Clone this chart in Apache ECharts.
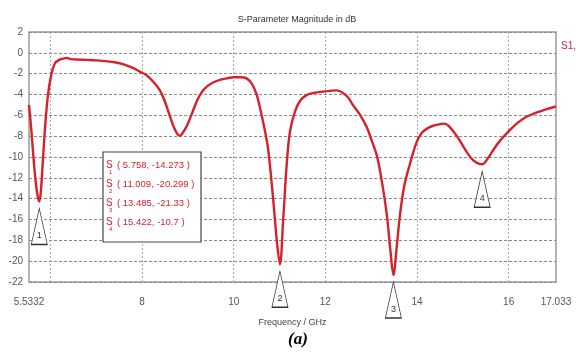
<!DOCTYPE html>
<html>
<head>
<meta charset="utf-8">
<script src="https://cdn.jsdelivr.net/npm/echarts@6/dist/echarts.min.js"></script>
<style>
  html, body { margin: 0; padding: 0; background: #fff; }
  #chart { width: 576px; height: 352px; }
</style>
</head>
<body>
<div id="chart"></div>
<script>
// S11 magnitude sweep (GHz, dB)
const freqGHz = [
  5.5332, 5.58, 5.63, 5.68, 5.72, 5.758, 5.79, 5.83, 5.87, 5.92,
  5.97, 6.03, 6.10, 6.20, 6.30, 6.36, 6.45, 6.6, 6.8, 7.0,
  7.2, 7.4, 7.6, 7.8, 7.95, 8.1, 8.25, 8.39, 8.5, 8.61,
  8.70, 8.78, 8.83, 8.90, 9.0, 9.1, 9.2, 9.3, 9.4, 9.55,
  9.7, 9.85, 10.0, 10.15, 10.28, 10.4, 10.5, 10.57, 10.65, 10.75,
  10.86, 10.94, 11.009, 11.08, 11.16, 11.23, 11.34, 11.45, 11.59, 11.75,
  11.95, 12.1, 12.25, 12.4, 12.5, 12.6, 12.75, 12.9, 13.01, 13.12,
  13.22, 13.34, 13.42, 13.485, 13.56, 13.63, 13.72, 13.85, 13.99, 14.1,
  14.21, 14.35, 14.5, 14.6, 14.72, 14.87, 15.0, 15.16, 15.3, 15.422,
  15.55, 15.66, 15.8, 16.03, 16.2, 16.39, 16.6, 16.8, 17.033
];
const s11dB = [
  -5.0, -7.2, -10.0, -12.4, -13.7, -14.273, -13.4, -10.8, -8.0, -5.2,
  -3.3, -1.9, -1.0, -0.65, -0.53, -0.5, -0.6, -0.65, -0.68, -0.72,
  -0.8, -0.9, -1.1, -1.45, -1.8, -2.15, -2.8, -3.6, -4.7, -6.1,
  -7.2, -7.85, -7.95, -7.6, -6.8, -5.7, -4.6, -3.8, -3.3, -2.85,
  -2.6, -2.45, -2.35, -2.35, -2.45, -3.0, -4.0, -5.2, -6.8, -9.2,
  -14.0, -18.0, -20.299, -16.0, -10.5, -7.5, -5.6, -4.6, -4.06, -3.85,
  -3.72, -3.65, -3.6, -3.9, -4.3, -5.0, -5.9, -7.1, -8.4, -9.8,
  -12.0, -15.5, -19.0, -21.33, -18.5, -15.5, -12.8, -10.6, -8.6, -7.7,
  -7.3, -7.0, -6.85, -6.8, -7.15, -8.0, -8.9, -10.0, -10.55, -10.7,
  -10.1, -9.35, -8.5, -7.4, -6.7, -6.14, -5.75, -5.45, -5.15
];

// Markers placed on the resonances
const markerIds = ['1', '2', '3', '4'];
const markerFreq = [5.758, 11.009, 13.485, 15.422];
const markerdB = [-14.273, -20.299, -21.33, -10.7];

// Axis labels
const xTickLabels = [5.5332, 8, 10, 12, 14, 16, 17.033];
const xGridLines = [6, 8, 10, 12, 14, 16];

const chart = echarts.init(document.getElementById('chart'), null, { renderer: 'canvas' });

const curve = freqGHz.map((f, i) => [f, s11dB[i]]);
const font = 'Liberation Sans, Arial, sans-serif';
const red = '#d8202c';

// Marker readout box
const boxLeft = 103, boxTop = 152, lineGap = 19;
const readout = [{
  type: 'rect',
  shape: { x: boxLeft, y: boxTop, width: 98, height: 90 },
  style: { fill: '#fff', stroke: '#444', lineWidth: 1.2 },
  z: 20
}];
markerIds.forEach((id, i) => {
  const y = boxTop + 8 + i * lineGap;
  readout.push({
    type: 'text', x: boxLeft + 3, y: y, z: 21,
    style: { text: 'S', fill: red, font: '10px ' + font }
  });
  readout.push({
    type: 'text', x: boxLeft + 6, y: y + 9, z: 21,
    style: { text: id, fill: red, font: '6px ' + font }
  });
  readout.push({
    type: 'text', x: boxLeft + 14, y: y, z: 21,
    style: {
      text: '( ' + markerFreq[i] + ', ' + markerdB[i] + ' )',
      fill: red, font: '9.5px ' + font
    }
  });
});

const option = {
  backgroundColor: '#fff',
  animation: false,
  title: {
    text: 'S-Parameter Magnitude in dB',
    left: 292, top: 10, textAlign: 'center',
    textStyle: { fontSize: 9, fontWeight: 'normal', color: '#333', fontFamily: font }
  },
  grid: {
    left: 29, right: 20, top: 32, bottom: 70,
    show: true, borderColor: '#9a9a9a', borderWidth: 1.5,
    outerBoundsMode: 'none'
  },
  xAxis: {
    type: 'value', min: 5.5332, max: 17.033,
    name: 'Frequency / GHz', nameLocation: 'middle', nameGap: 36,
    nameTextStyle: { fontSize: 9, color: '#444', fontFamily: font },
    axisLine: { show: false }, axisTick: { show: false },
    splitLine: { show: false },
    axisLabel: {
      customValues: xTickLabels, margin: 15,
      color: '#555', fontSize: 10, fontFamily: font,
      formatter: v => String(v)
    }
  },
  yAxis: {
    type: 'value', min: -22, max: 2, interval: 2,
    axisLine: { show: false }, axisTick: { show: false },
    axisLabel: { color: '#555', fontSize: 10, fontFamily: font, margin: 6 },
    splitLine: { lineStyle: { color: '#8a8a8a', type: [3, 2], width: 1 } }
  },
  graphic: [
    ...readout,
    {
      type: 'text', x: 561, y: 41,
      style: { text: 'S1,1', fill: red, font: '10px ' + font }
    },
    {
      type: 'text', x: 298, y: 340,
      style: {
        text: '(a)', fill: '#000', textAlign: 'center', textVerticalAlign: 'middle',
        font: 'italic bold 17px "Liberation Serif", "Times New Roman", serif'
      }
    }
  ],
  series: [
    {
      // vertical grid at the major frequency steps
      type: 'line', data: [], silent: true,
      markLine: {
        silent: true, symbol: 'none', label: { show: false },
        lineStyle: { color: '#a8a8a8', type: [2, 2], width: 1 },
        data: xGridLines.map(v => ({ xAxis: v }))
      }
    },
    {
      type: 'line', data: curve, showSymbol: false, smooth: 0.35,
      lineStyle: { color: red, width: 2.4 },
      z: 5,
      markPoint: {
        symbol: 'path://M8,0L16,36L0,36Z',
        symbolSize: [16, 36], symbolKeepAspect: false,
        symbolOffset: [0, 25],
        itemStyle: { color: '#fff', borderColor: '#333', borderWidth: 1 },
        label: { show: true, color: '#333', fontSize: 9, fontFamily: font, offset: [0, 9] },
        data: markerIds.map((id, i) => ({
          coord: [markerFreq[i], markerdB[i]], value: id,
          label: { formatter: id }
        }))
      }
    }
  ]
};

chart.setOption(option);
</script>
</body>
</html>
